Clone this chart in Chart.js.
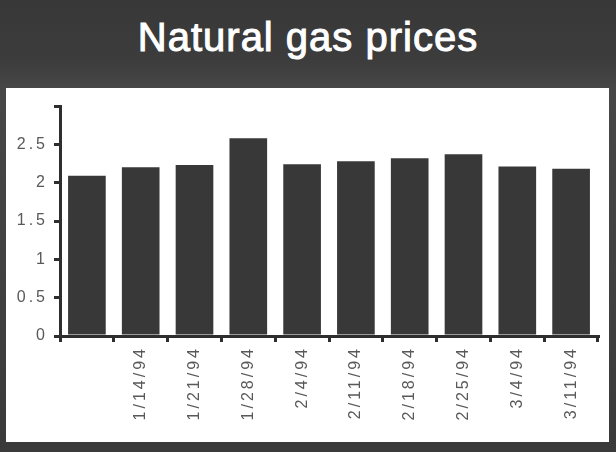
<!DOCTYPE html>
<html>
<head>
<meta charset="utf-8">
<script src="https://cdn.jsdelivr.net/npm/chart.js@4.4.0/dist/chart.umd.min.js"></script>
<style>
  html, body { margin: 0; padding: 0; }
  body {
    width: 616px; height: 452px; position: relative; overflow: hidden;
    background: linear-gradient(#383838 0px, #3c3c3c 60px, #474747 88px, #3a3a3a 452px);
  }
  #title {
    position: absolute; left: 0; top: 0; width: 616px; height: 74px;
    line-height: 74px; text-align: center; color: #fff;
    font-family: "Liberation Sans", Arial, sans-serif; font-size: 40px;
    letter-spacing: 1px;
    -webkit-text-stroke: 1px #fff;
  }
  #panel {
    position: absolute; left: 6px; top: 88px; width: 603px; height: 354px;
    background: #fff;
  }
  #mycanvas { position: absolute; left: 0; top: 0; }
</style>
</head>
<body>
<div id="title">Natural gas prices</div>
<div id="panel"></div>
<canvas id="mycanvas" width="616" height="452"></canvas>
<script>
// weekly dates, first bar has no label in the original
var weeks = ["", "1/14/94", "1/21/94", "1/28/94", "2/4/94", "2/11/94", "2/18/94", "2/25/94", "3/4/94", "3/11/94"];
var prices = [2.09, 2.20, 2.23, 2.58, 2.24, 2.28, 2.32, 2.37, 2.21, 2.18];
var yTicks = [0, 0.5, 1, 1.5, 2, 2.5, 3];

var ink = "#2e2e2e";
var labelGray = "#595959";

// spread the tick lettering like the old print
var spacing = {
  id: "spacing",
  beforeDraw: function(chart) {
    chart.ctx.letterSpacing = "3px";
  }
};

var ctx = document.getElementById("mycanvas");

var BarGraph = new Chart(ctx, {
  type: "bar",
  data: {
    labels: weeks,
    datasets: [
      {
        label: "Natural gas",
        data: prices,
        backgroundColor: "#383838",
        borderWidth: 0,
        categoryPercentage: 1,
        barPercentage: 0.7
      }
    ]
  },
  plugins: [spacing],
  options: {
    responsive: false,
    animation: { duration: 0 },
    layout: { padding: { top: 106, right: 18, bottom: 0, left: 0 } },
    plugins: {
      legend: { display: false },
      tooltip: { enabled: false }
    },
    scales: {
      x: {
        afterFit: function(scale) { scale.height = 116; },
        border: { color: ink, width: 3 },
        grid: { drawOnChartArea: false, color: ink, lineWidth: 3, tickLength: 6, offset: true },
        ticks: {
          autoSkip: false, minRotation: 90, maxRotation: 90, padding: 4,
          color: labelGray,
          font: { family: "Liberation Sans", size: 16 }
        }
      },
      y: {
        min: 0,
        max: 3,
        afterFit: function(scale) { scale.width = 60; },
        afterBuildTicks: function(scale) {
          scale.ticks = yTicks.map(function(v) { return { value: v }; });
        },
        border: { color: ink, width: 3 },
        grid: { drawOnChartArea: false, color: ink, lineWidth: 3, tickLength: 6 },
        ticks: {
          padding: 6,
          color: labelGray,
          font: { family: "Liberation Sans", size: 16 },
          callback: function(v) { return v === 3 ? "" : String(v); }
        }
      }
    }
  }
});
</script>
</body>
</html>
